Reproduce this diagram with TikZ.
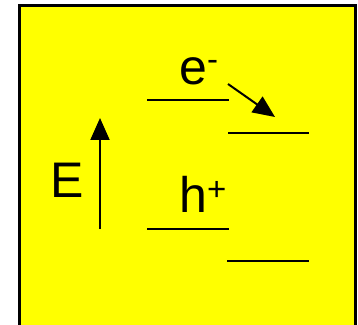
\documentclass[tikz,border=0pt]{standalone}
\usepackage{fontspec}
\setmainfont{Liberation Sans}
\usetikzlibrary{arrows.meta}
\definecolor{bandbg}{RGB}{255,255,0}
\newcommand\supmark[2]{\raisebox{#1}{\fontsize{33}{33}\selectfont#2}}
\begin{document}
\begin{tikzpicture}[x=1pt, y=1pt,
    level/.style={line width=2pt},
    flow/.style={line width=2pt, -{Triangle[length=22pt, width=19pt]}},
    lbl/.style={inner sep=0pt, font=\fontsize{50}{50}\selectfont}
  ]
  \useasboundingbox (0,0) rectangle (358,324);
  \clip (0,0) rectangle (358,324);
  \draw[line width=2.5pt, fill=bandbg] (19.5,-10) rectangle (355.5,318.5);
  % energy levels
  \foreach \n/\xa/\xb/\y in {cbl/147/229/224, cbr/228/309/191, vbl/147/229/95, vbr/227/309/63} {
    \coordinate (\n-w) at (\xa,\y);
    \coordinate (\n-e) at (\xb,\y);
    \draw[level] (\n-w) -- (\n-e);
  }
  % labels
  \node[lbl, anchor=base] (en) at (66.7,126.7) {E};
  \node[lbl, anchor=base west] (elec) at (179,239.5) {e\supmark{14pt}{-}};
  \node[lbl, anchor=base west] (hole) at (179,112) {h\supmark{11.5pt}{+}};
  % arrows
  \coordinate (ax0) at (100,95);
  \coordinate (ax1) at (100,206);
  \draw[flow] (ax0) -- (ax1);
  \coordinate (hop0) at (228,240);
  \coordinate (hop1) at (275,207);
  \draw[flow] (hop0) -- (hop1);
\end{tikzpicture}
\end{document}
